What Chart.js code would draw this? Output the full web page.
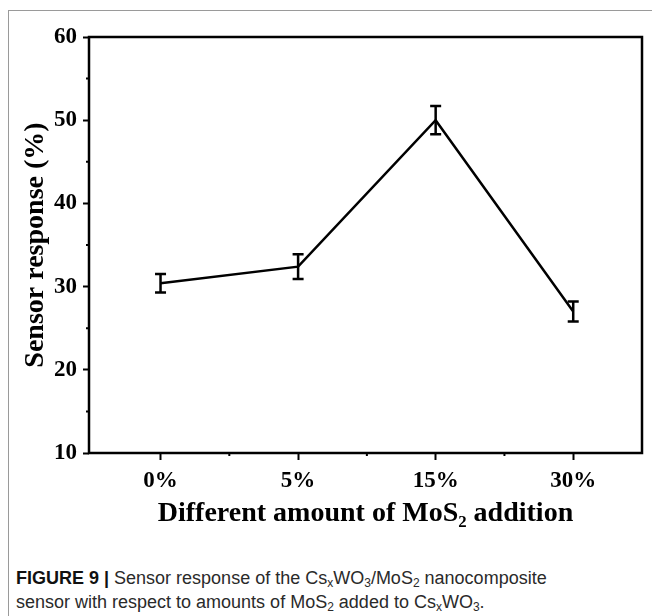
<!DOCTYPE html>
<html lang="en">
<head>
  <meta charset="UTF-8" />
  <title>Sensor response vs MoS2 addition</title>
  <script src="https://cdn.jsdelivr.net/npm/chart.js"></script>
  <style>
    body {
      margin: 0;
      width: 652px;
      height: 616px;
      overflow: hidden;
      background: #fff;
      position: relative;
    }

    .frame {
      position: absolute;
      left: 8px;
      top: 10px;
      width: 700px;
      height: 700px;
      border-left: 1.5px solid #9a9a9a;
      border-top: 1.5px solid #9a9a9a;
    }

    #chart {
      position: absolute;
      left: 0;
      top: 0;
    }

    .caption {
      position: absolute;
      left: 16px;
      top: 566px;
      font-family: 'Liberation Sans', Arial, sans-serif;
      font-size: 18px;
      line-height: 24px;
      color: #2a2a2a;
      white-space: nowrap;
    }

    .caption b {
      color: #111;
    }

    .caption sub {
      font-size: 12px;
      vertical-align: -3px;
      line-height: 0;
    }
  </style>
</head>
<body>
  <div class="frame"></div>
  <canvas id="chart" width="652" height="560"></canvas>

  <div class="caption">
    <b>FIGURE 9 |</b> Sensor response of the Cs<sub>x</sub>WO<sub>3</sub>/MoS<sub>2</sub> nanocomposite<br>
    sensor with respect to amounts of MoS<sub>2</sub> added to Cs<sub>x</sub>WO<sub>3</sub>.
  </div>

  <script>
    // values
    const amounts = ['0%', '5%', '15%', '30%'];
    const response = [30.4, 32.4, 50.0, 27.0];
    const errors = [1.1, 1.5, 1.7, 1.2];
    const yTicks = [10, 20, 30, 40, 50, 60];

    const axisFont = "'Liberation Serif', 'Times New Roman', serif";

    // error bars, minor ticks and the box around the plot
    const extras = {
      id: 'extras',
      afterDatasetsDraw(chart) {
        const { ctx, scales: { x, y } } = chart;
        ctx.save();
        ctx.strokeStyle = '#000';
        ctx.lineWidth = 2.5;
        response.forEach((v, i) => {
          const px = x.getPixelForValue(i);
          const top = y.getPixelForValue(v + errors[i]);
          const bot = y.getPixelForValue(v - errors[i]);
          ctx.beginPath();
          ctx.moveTo(px, top);
          ctx.lineTo(px, bot);
          ctx.moveTo(px - 5.5, top);
          ctx.lineTo(px + 5.5, top);
          ctx.moveTo(px - 5.5, bot);
          ctx.lineTo(px + 5.5, bot);
          ctx.stroke();
        });
        ctx.restore();
      },
      afterDraw(chart) {
        const { ctx, chartArea: a, scales: { x, y } } = chart;
        ctx.save();
        ctx.strokeStyle = '#000';
        ctx.lineWidth = 2;
        ctx.beginPath();
        for (let i = 0; i < amounts.length - 1; i++) {
          const px = x.getPixelForValue(i + 0.5);
          ctx.moveTo(px, a.bottom);
          ctx.lineTo(px, a.bottom + 3);
        }
        for (let i = 0; i < yTicks.length - 1; i++) {
          const py = y.getPixelForValue(yTicks[i] + 5);
          ctx.moveTo(a.left, py);
          ctx.lineTo(a.left - 3, py);
        }
        ctx.stroke();
        ctx.lineWidth = 2.5;
        ctx.strokeRect(a.left, a.top, a.right - a.left, a.bottom - a.top);
        ctx.restore();
      }
    };

    new Chart(document.getElementById('chart'), {
      type: 'line',
      data: {
        datasets: [{
          data: response.map((v, i) => ({ x: i, y: v })),
          borderColor: '#000',
          borderWidth: 2.5,
          pointRadius: 0,
          tension: 0,
          fill: false
        }]
      },
      options: {
        responsive: false,
        animation: false,
        layout: { padding: { top: 37, right: 10, left: 0, bottom: 0 } },
        plugins: {
          legend: { display: false },
          tooltip: { enabled: false }
        },
        scales: {
          x: {
            type: 'linear',
            min: -0.52,
            max: 3.5,
            afterBuildTicks: s => { s.ticks = amounts.map((_, i) => ({ value: i })); },
            afterFit: s => { s.height = 107; },
            grid: { display: true, drawOnChartArea: false, tickLength: 7, tickWidth: 2, color: '#000' },
            border: { display: false },
            ticks: {
              color: '#000',
              padding: 7,
              maxRotation: 0,
              font: { family: axisFont, size: 23, weight: 'bold' },
              callback: v => amounts[v]
            },
            title: {
              display: true,
              text: 'Different amount of MoS\u2082 addition',
              color: '#000',
              padding: { top: 0, bottom: 29 },
              font: { family: axisFont, size: 28, weight: 'bold' }
            }
          },
          y: {
            min: 10,
            max: 60,
            afterBuildTicks: s => { s.ticks = yTicks.map(v => ({ value: v })); },
            afterFit: s => { s.width = 89; },
            grid: { display: true, drawOnChartArea: false, tickLength: 6, tickWidth: 2, color: '#000' },
            border: { display: false },
            ticks: {
              color: '#000',
              padding: 6,
              font: { family: axisFont, size: 23, weight: 'bold' }
            },
            title: {
              display: true,
              text: 'Sensor response (%)',
              color: '#000',
              padding: { top: 19, bottom: 0 },
              font: { family: axisFont, size: 28, weight: 'bold' }
            }
          }
        }
      },
      plugins: [extras]
    });
  </script>
</body>
</html>
